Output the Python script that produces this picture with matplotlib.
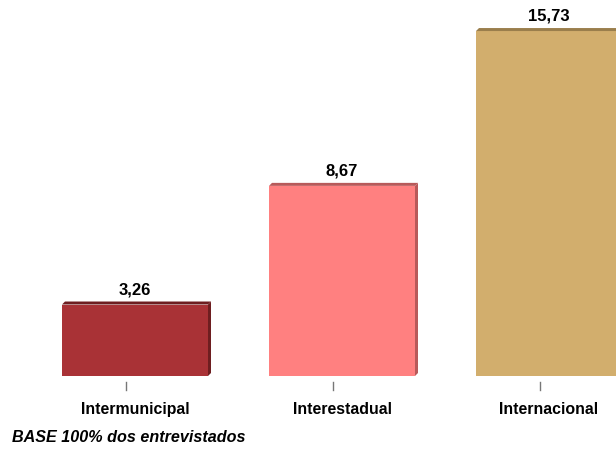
import matplotlib
matplotlib.use('Agg')
import matplotlib.pyplot as plt
from matplotlib.patches import Polygon
from matplotlib.transforms import blended_transform_factory

plt.rcParams['font.family'] = ['Liberation Sans', 'DejaVu Sans']

categorias = ['Intermunicipal', 'Interestadual', 'Internacional']
valores = [3.26, 8.67, 15.73]
rotulos = ['3,26', '8,67', '15,73']
cores = ['#A93236', '#FF8080', '#D2AE6D']
cores_borda = ['#6E1E20', '#B85A5A', '#9A7E4C']

W, H = 616, 452
fig = plt.figure(figsize=(W / 100, H / 100), dpi=100)
fig.patch.set_facecolor('white')

# axes cover the full width; baseline sits 75 px above the bottom edge
ax = fig.add_axes([0, 75 / H, 1, 1 - 75 / H])
px_x = 207.0          # pixels per category step
px_y = 21.93          # pixels per unit
x0 = 135.0            # pixel centre of the first bar
ax.set_xlim(-x0 / px_x, (W - x0) / px_x)
ax.set_ylim(0, (H - 75) / px_y)
ax.axis('off')

largura = 146 / px_x
dx = 3 / px_x
dy = 3 / px_y

for i, (v, c, cb) in enumerate(zip(valores, cores, cores_borda)):
    ax.bar(i, v, width=largura, color=c, edgecolor='none', zorder=2)
    esq, dir_ = i - largura / 2, i + largura / 2
    # top face
    ax.add_patch(Polygon([(esq, v), (esq + dx, v + dy), (dir_ + dx, v + dy), (dir_, v)],
                         closed=True, facecolor=cb, edgecolor='none', zorder=3))
    # right side
    ax.add_patch(Polygon([(dir_, 0), (dir_ + dx, dy), (dir_ + dx, v + dy), (dir_, v)],
                         closed=True, facecolor=cb, edgecolor='none', zorder=3))
    ax.text(i, v + 16 / px_y, rotulos[i], ha='center', va='center',
            fontsize=12, fontweight='bold', color='black')

# small ticks and category labels below the baseline
trans = blended_transform_factory(ax.transData, fig.transFigure)
for i, nome in enumerate(categorias):
    xt = i - 9 / px_x
    ax.plot([xt, xt], [1 - 383 / H, 1 - 391 / H], color='#777777', lw=1,
            transform=trans, clip_on=False)
    ax.text(i, 1 - 410 / H, nome, transform=trans, ha='center', va='center',
            fontsize=11.4, fontweight='bold', color='black')

fig.text(12 / W, 1 - 438 / H, 'BASE 100% dos entrevistados', ha='left', va='center',
         fontsize=11.6, fontweight='bold', fontstyle='italic', color='black')

fig.savefig('out.png', dpi=100)
